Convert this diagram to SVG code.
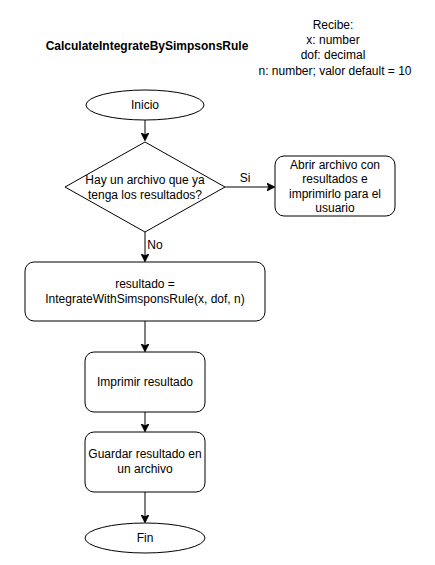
<svg xmlns="http://www.w3.org/2000/svg" width="435" height="565" viewBox="0 0 435 565">
  <style>
    .shape { fill: #ffffff; stroke: #000000; stroke-width: 1; }
    .edge { fill: none; stroke: #000000; stroke-width: 1; }
    text { font-family: "Liberation Sans", Arial, Helvetica, sans-serif; font-size: 12px; fill: #000000; text-anchor: middle; }
    .title { font-weight: bold; }
  </style>
  <defs>
    <marker id="arrow" viewBox="0 0 10 10" refX="9" refY="5" markerWidth="8" markerHeight="8" markerUnits="userSpaceOnUse" orient="auto">
      <path d="M0,0 L10,5 L0,10 L2.5,5 Z" fill="#000000" stroke="#000000" stroke-width="1"/>
    </marker>
  </defs>
  <rect width="435" height="565" fill="#ffffff"/>

  <g id="title">
    <text class="title" x="147" y="50">CalculateIntegrateBySimpsonsRule</text>
  </g>

  <g id="params">
    <text x="333" y="29">Recibe:</text>
    <text x="333" y="44">x: number</text>
    <text x="333" y="59">dof: decimal</text>
    <text x="335" y="75">n: number; valor default = 10</text>
  </g>

  <g id="connectors">
    <path class="edge" d="M145,120 L145,140" marker-end="url(#arrow)"/>
    <path class="edge" d="M225,187 L274,187" marker-end="url(#arrow)"/>
    <path class="edge" d="M145,232 L145,261" marker-end="url(#arrow)"/>
    <path class="edge" d="M145,321 L145,351" marker-end="url(#arrow)"/>
    <path class="edge" d="M145,412 L145,431" marker-end="url(#arrow)"/>
    <path class="edge" d="M145,492 L145,522" marker-end="url(#arrow)"/>
    <text x="245" y="182">Si</text>
    <text x="155" y="249">No</text>
  </g>

  <g id="inicio">
    <ellipse class="shape" cx="145" cy="105" rx="59" ry="15"/>
    <text x="145" y="109">Inicio</text>
  </g>

  <g id="decision">
    <polygon class="shape" points="145,142 225,187 145,232 65,187"/>
    <text x="145" y="184">Hay un archivo que ya</text>
    <text x="145" y="199">tenga los resultados?</text>
  </g>

  <g id="abrir">
    <rect class="shape" x="275" y="156" width="120" height="60" rx="9" ry="9"/>
    <text x="335" y="169">Abrir archivo con</text>
    <text x="335" y="183">resultados e</text>
    <text x="335" y="198">imprimirlo para el</text>
    <text x="335" y="212">usuario</text>
  </g>

  <g id="calcular">
    <rect class="shape" x="25" y="262" width="240" height="59" rx="9" ry="9"/>
    <text x="145" y="288">resultado =</text>
    <text x="145" y="303">IntegrateWithSimsponsRule(x, dof, n)</text>
  </g>

  <g id="imprimir">
    <rect class="shape" x="85" y="352" width="120" height="60" rx="9" ry="9"/>
    <text x="145" y="386">Imprimir resultado</text>
  </g>

  <g id="guardar">
    <rect class="shape" x="85" y="432" width="120" height="60" rx="9" ry="9"/>
    <text x="145" y="458">Guardar resultado en</text>
    <text x="145" y="473">un archivo</text>
  </g>

  <g id="fin">
    <ellipse class="shape" cx="145" cy="538" rx="60" ry="15"/>
    <text x="145" y="542">Fin</text>
  </g>
</svg>
